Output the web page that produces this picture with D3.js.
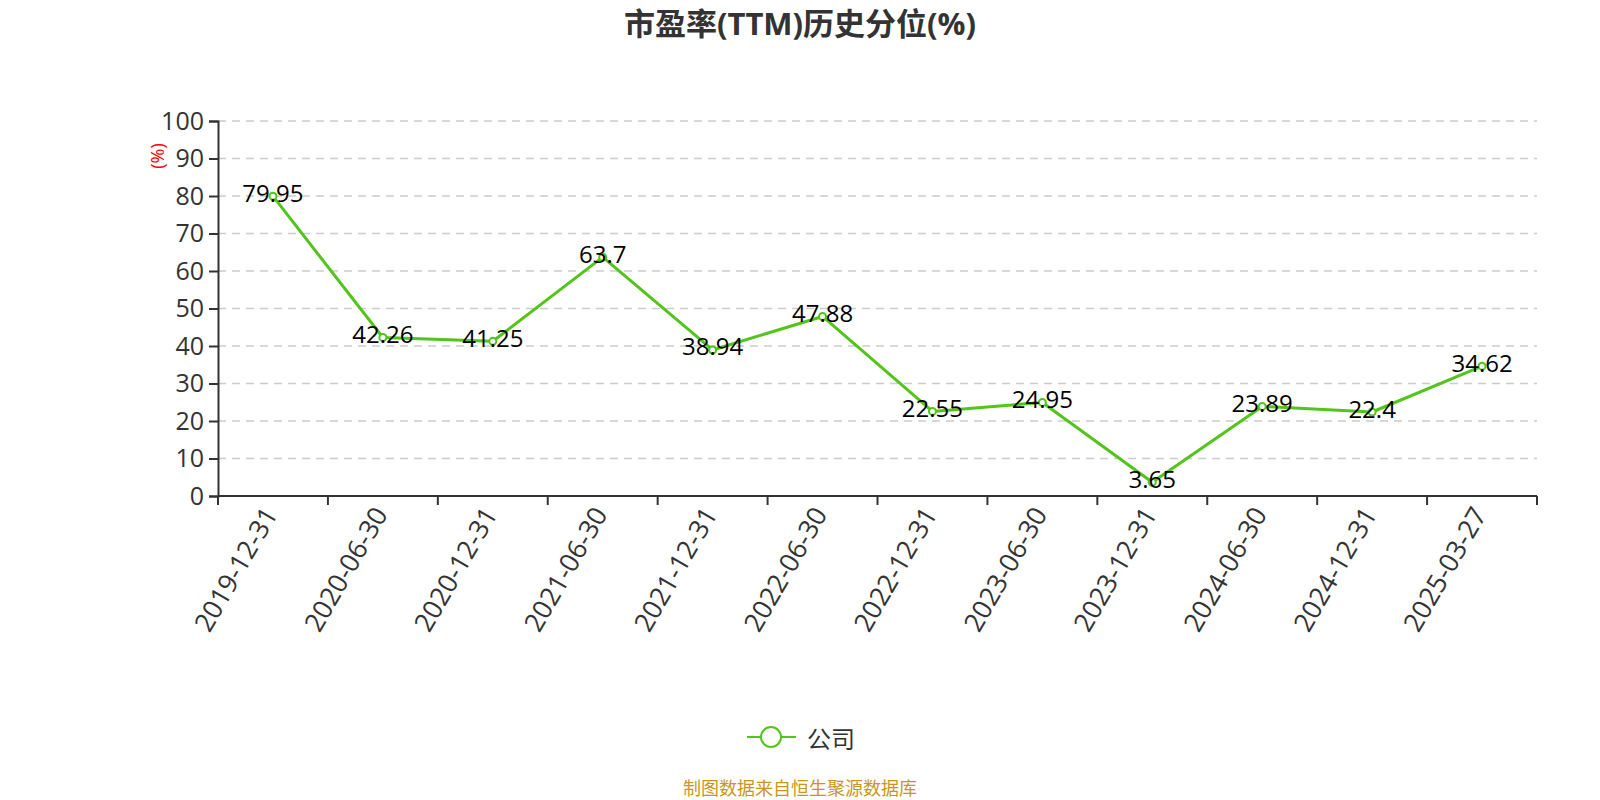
<!DOCTYPE html>
<html>
<head>
<meta charset="utf-8">
<script src="https://cdn.jsdelivr.net/npm/d3@7"></script>
<style>
  html, body { margin: 0; padding: 0; background: #fff; }
  svg { display: block; font-family: "Open Sans", "Noto Sans CJK SC", sans-serif; }
</style>
</head>
<body>
<div id="chart"></div>
<script>
// Chart data
const categories = ["2019-12-31", "2020-06-30", "2020-12-31", "2021-06-30", "2021-12-31", "2022-06-30",
                    "2022-12-31", "2023-06-30", "2023-12-31", "2024-06-30", "2024-12-31", "2025-03-27"];
const values = [79.95, 42.26, 41.25, 63.7, 38.94, 47.88, 22.55, 24.95, 3.65, 23.89, 22.4, 34.62];
const yTicks = [0, 10, 20, 30, 40, 50, 60, 70, 80, 90, 100];
const seriesName = "公司";

const width = 1600, height = 800;
const margin = { top: 121, right: 63, bottom: 304, left: 218 };
const green = "#52c41a";

const svg = d3.select("#chart")
    .append("svg")
    .attr("width", width)
    .attr("height", height);

// Title
svg.append("text")
    .attr("x", width / 2)
    .attr("y", 23)
    .attr("text-anchor", "middle")
    .attr("dominant-baseline", "central")
    .attr("font-size", "31px")
    .attr("font-weight", "bold")
    .attr("fill", "#333")
    .text("市盈率(TTM)历史分位(%)");

const x = d3.scaleBand()
    .domain(categories)
    .range([margin.left, width - margin.right]);

const y = d3.scaleLinear()
    .domain([0, 100])
    .range([height - margin.bottom, margin.top]);

// Grid lines
svg.append("g")
    .selectAll("line")
    .data(yTicks.filter(d => d > 0))
    .join("line")
    .attr("x1", margin.left)
    .attr("x2", width - margin.right)
    .attr("y1", d => y(d))
    .attr("y2", d => y(d))
    .attr("stroke", "#ccc")
    .attr("stroke-width", 1.5)
    .attr("stroke-dasharray", "8,6");

// Y axis
const yAxis = svg.append("g")
    .attr("transform", `translate(${margin.left},0)`)
    .call(d3.axisLeft(y).tickValues(yTicks).tickSize(9).tickPadding(5));
yAxis.select(".domain").attr("stroke", "#333").attr("stroke-width", 2);
yAxis.selectAll(".tick line").attr("stroke", "#333").attr("stroke-width", 2);
yAxis.selectAll(".tick text")
    .attr("fill", "#333")
    .attr("font-size", "25px")
    .attr("font-family", "Open Sans, sans-serif");

// Y axis unit
svg.append("text")
    .attr("transform", `translate(157,${156}) rotate(-90)`)
    .attr("text-anchor", "middle")
    .attr("dominant-baseline", "central")
    .attr("font-size", "18px")
    .attr("fill", "red")
    .text("(%)");

// X axis
const xAxisG = svg.append("g")
    .attr("transform", `translate(0,${height - margin.bottom})`);
xAxisG.append("line")
    .attr("x1", margin.left)
    .attr("x2", width - margin.right)
    .attr("stroke", "#333")
    .attr("stroke-width", 2);
const boundaries = categories.map(c => x(c)).concat([width - margin.right]);
xAxisG.selectAll(".xtick")
    .data(boundaries)
    .join("line")
    .attr("x1", d => d)
    .attr("x2", d => d)
    .attr("y1", 0)
    .attr("y2", 9)
    .attr("stroke", "#333")
    .attr("stroke-width", 2);
xAxisG.selectAll(".xlabel")
    .data(categories)
    .join("text")
    .attr("transform", d => `translate(${x(d) + x.bandwidth() / 2 - 3},13) rotate(-60)`)
    .attr("text-anchor", "end")
    .attr("dominant-baseline", "central")
    .attr("font-size", "26.5px")
    .attr("fill", "#333")
    .text(d => d);

// Line
const line = d3.line()
    .x((d, i) => x(categories[i]) + x.bandwidth() / 2)
    .y(d => y(d));

svg.append("path")
    .datum(values)
    .attr("fill", "none")
    .attr("stroke", green)
    .attr("stroke-width", 3)
    .attr("stroke-linejoin", "round")
    .attr("d", line);

// Points
svg.append("g")
    .selectAll("circle")
    .data(values)
    .join("circle")
    .attr("cx", (d, i) => x(categories[i]) + x.bandwidth() / 2)
    .attr("cy", d => y(d))
    .attr("r", 3.5)
    .attr("fill", "#fff")
    .attr("stroke", green)
    .attr("stroke-width", 2);

// Data labels
svg.append("g")
    .selectAll("text")
    .data(values)
    .join("text")
    .attr("x", (d, i) => x(categories[i]) + x.bandwidth() / 2)
    .attr("y", d => y(d) - 4)
    .attr("text-anchor", "middle")
    .attr("dominant-baseline", "central")
    .attr("font-size", "24px")
    .attr("fill", "#000")
    .text(d => d);

// Legend
const legend = svg.append("g").attr("transform", "translate(771,737)");
legend.append("line")
    .attr("x1", -24).attr("x2", 25)
    .attr("stroke", green).attr("stroke-width", 2);
legend.append("circle")
    .attr("r", 10)
    .attr("fill", "#fff")
    .attr("stroke", green)
    .attr("stroke-width", 2);
legend.append("text")
    .attr("x", 36)
    .attr("dominant-baseline", "central")
    .attr("font-size", "24px")
    .attr("fill", "#333")
    .attr("font-family", "Noto Sans CJK SC, sans-serif")
    .text(seriesName);

// Source note
svg.append("text")
    .attr("x", 800)
    .attr("y", 787)
    .attr("text-anchor", "middle")
    .attr("dominant-baseline", "central")
    .attr("font-size", "18px")
    .attr("fill", "#c8961e")
    .attr("font-family", "Noto Sans CJK SC, sans-serif")
    .text("制图数据来自恒生聚源数据库");
</script>
</body>
</html>
